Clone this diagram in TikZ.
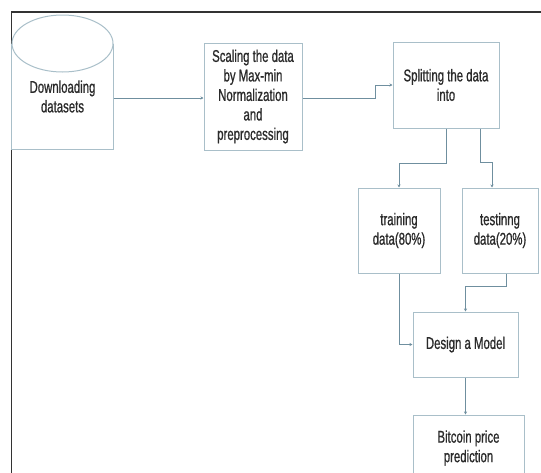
\documentclass[tikz,border=0pt]{standalone}
\usepackage{fontspec}
\setmainfont[FakeStretch=0.67, FakeBold=0.8]{Liberation Sans}
\usetikzlibrary{arrows.meta}
\definecolor{boxline}{HTML}{A9BFC9}
\definecolor{linkline}{HTML}{6F8F9F}
\definecolor{textgray}{HTML}{2A2A2A}

\begin{document}
\begin{tikzpicture}[x=1pt, y=-1pt,
  stage/.style={draw=boxline, line width=1pt, fill=white, inner sep=0pt,
    align=center, text=textgray, font=\fontsize{17}{19.5}\selectfont},
  link/.style={draw=linkline, line width=1pt, -{Stealth[length=3pt, width=3pt]}}]
  \useasboundingbox (0,0) rectangle (541,472);
  \clip (0,0) rectangle (541,472);

  % outer frame
  \draw[line width=1.5pt, black!80] (541,12) -- (11.5,12) -- (11.5,480);

  % cylinder
  \node[stage, draw=none, fill=none, minimum width=101, minimum height=105] (dl) at (62.5,96.5) {Downloading\\datasets};
  \draw[boxline, line width=1pt] (dl.north west) -- (dl.south west) -- (dl.south east) -- (dl.north east);
  \draw[boxline, line width=1pt, fill=white] (dl.north) ellipse (50.5 and 28.5);

  \node[stage, minimum width=98, minimum height=107] (scale) at (253,96.5) {Scaling the data\\by Max-min\\Normalization\\and\\preprocessing};
  \node[stage, minimum width=106, minimum height=86] (split) at (446,85) {Splitting the data\\into};
  \node[stage, minimum width=82, minimum height=85] (train) at (399,230.5) {training\\data(80\%)};
  \node[stage, minimum width=76, minimum height=85] (test) at (500,230.5) {testinng\\data(20\%)};
  \node[stage, minimum width=105, minimum height=65] (design) at (465.5,344.5) {Design a Model};
  \node[stage, minimum width=111, minimum height=66] (btc) at (468.5,448) {Bitcoin price\\prediction};

  \draw[link] (dl.east |- 0,98) -- (scale.west |- 0,98);
  \draw[link] (scale.east |- 0,98) -- ++(73,0) |- (split.west);
  \draw[link] (split.south) -- ++(0,35) -| (train.north);
  \draw[link] ([xshift=34]split.south) -- ++(0,34) -| ([xshift=-8]test.north);
  \draw[link] ([xshift=6]test.south) -- ++(0,13) -| (design.north);
  \draw[link] (train.south) |- (design.west);
  \draw[link] (design.south) -- (design.south |- btc.north);
\end{tikzpicture}
\end{document}
